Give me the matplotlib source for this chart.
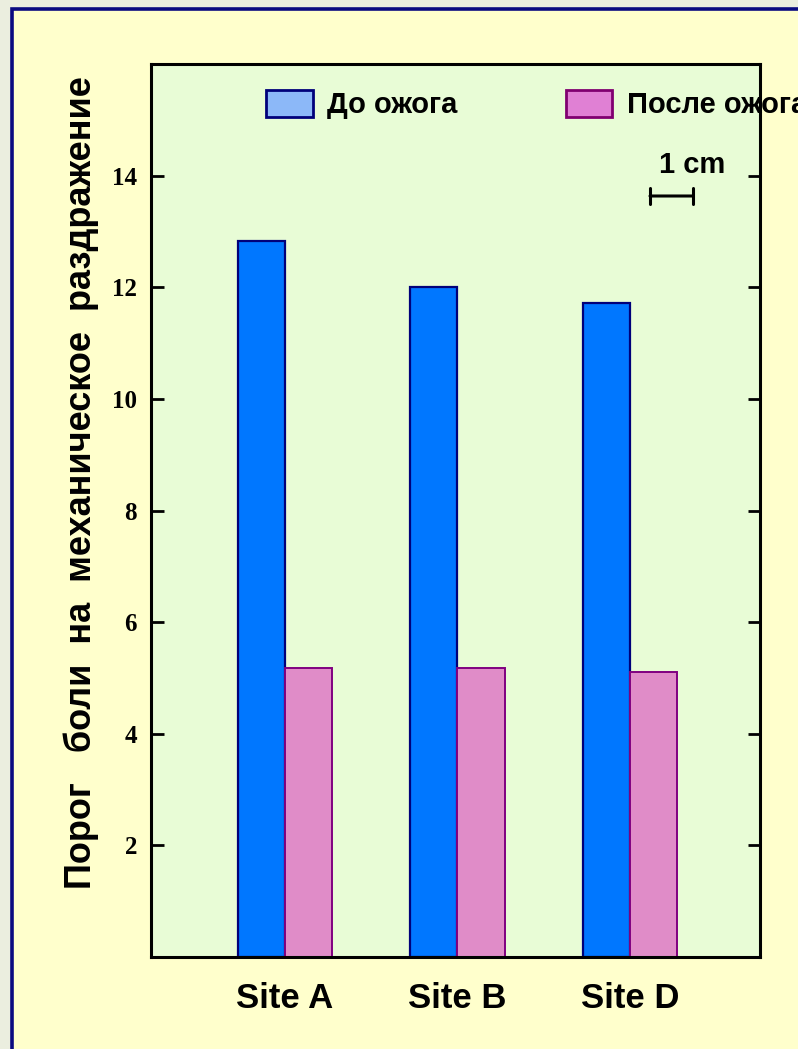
import matplotlib
matplotlib.use("Agg")
import matplotlib.pyplot as plt
from matplotlib.patches import Rectangle, Patch
import numpy as np

categories = ["Site A", "Site B", "Site D"]
before = [12.83, 12.0, 11.72]
after = [5.17, 5.17, 5.10]
yticks = [2, 4, 6, 8, 10, 12, 14]
legend_labels = ["До ожога", "После ожога"]
ylabel = "Порог   боли  на  механическое  раздражение"

W, H = 798, 1049
fig = plt.figure(figsize=(W / 100, H / 100), dpi=100)
fig.patch.set_facecolor("#EBEEDF")

# framed slide background
bg = Rectangle((11.5 / W, -0.05), 1.0, (H - 8.5) / H + 0.05,
               transform=fig.transFigure, facecolor="#FFFFCC",
               edgecolor="#0A0A80", linewidth=2.6, zorder=-10)
fig.patches.append(bg)

ax = fig.add_axes([151 / W, (H - 957) / H, (760 - 151) / W, (957 - 64) / H])
ax.set_zorder(1)
ax.set_facecolor("#E8FCD6")

x = np.arange(len(categories))
w = 0.275
ax.bar(x - w / 2, before, width=w, color="#0077FF", edgecolor="#00007A", linewidth=1.6, zorder=2)
ax.bar(x + w / 2, after, width=w, color="#E08CC8", edgecolor="#800080", linewidth=1.4, zorder=2)

ax.set_xlim(-0.777, 2.754)
ax.set_ylim(0, 16)
ax.set_yticks(yticks)
ax.set_yticklabels([str(t) for t in yticks], fontfamily="Liberation Serif",
                   fontweight="bold", fontsize=18)
ax.set_xticks(x)
ax.set_xticklabels(categories, fontfamily="Liberation Sans", fontweight="bold", fontsize=25)
ax.tick_params(axis="x", length=0, pad=18)
ax.tick_params(axis="y", direction="in", length=9, width=2, right=True, pad=10)
for s in ax.spines.values():
    s.set_linewidth(2.2)
    s.set_color("black")
    s.set_zorder(6)

fig.text(81 / W, 1 - 483 / H, ylabel, rotation=90, ha="center", va="center",
         fontfamily="Liberation Sans", fontweight="bold", fontsize=26, zorder=5)

handles = [Patch(facecolor="#8CB8F8", edgecolor="#00007A", linewidth=2),
           Patch(facecolor="#E080D4", edgecolor="#800070", linewidth=2)]
leg = ax.legend(handles, legend_labels, loc="upper left",
                bbox_to_anchor=(266 / W, 1 - 90 / H), bbox_transform=fig.transFigure,
                ncol=2, frameon=False, borderpad=0, borderaxespad=0,
                handlelength=1.6, handleheight=1.05, handletextpad=0.5, columnspacing=3.7,
                prop={"family": "Liberation Sans", "weight": "bold", "size": 21})
leg.set_zorder(4)

# 1 cm scale bar
ax.text(692 / W, 1 - 165 / H, "1 cm", transform=fig.transFigure, ha="center", va="center",
        fontfamily="Liberation Sans", fontweight="bold", fontsize=21)
ax.annotate("", xy=(693 / W, 1 - 196 / H), xytext=(650 / W, 1 - 196 / H),
            xycoords=fig.transFigure, textcoords=fig.transFigure,
            arrowprops=dict(arrowstyle="|-|", mutation_scale=6, lw=2.2, color="black",
                            shrinkA=0, shrinkB=0))

fig.savefig("out.png", dpi=100, facecolor=fig.get_facecolor())
